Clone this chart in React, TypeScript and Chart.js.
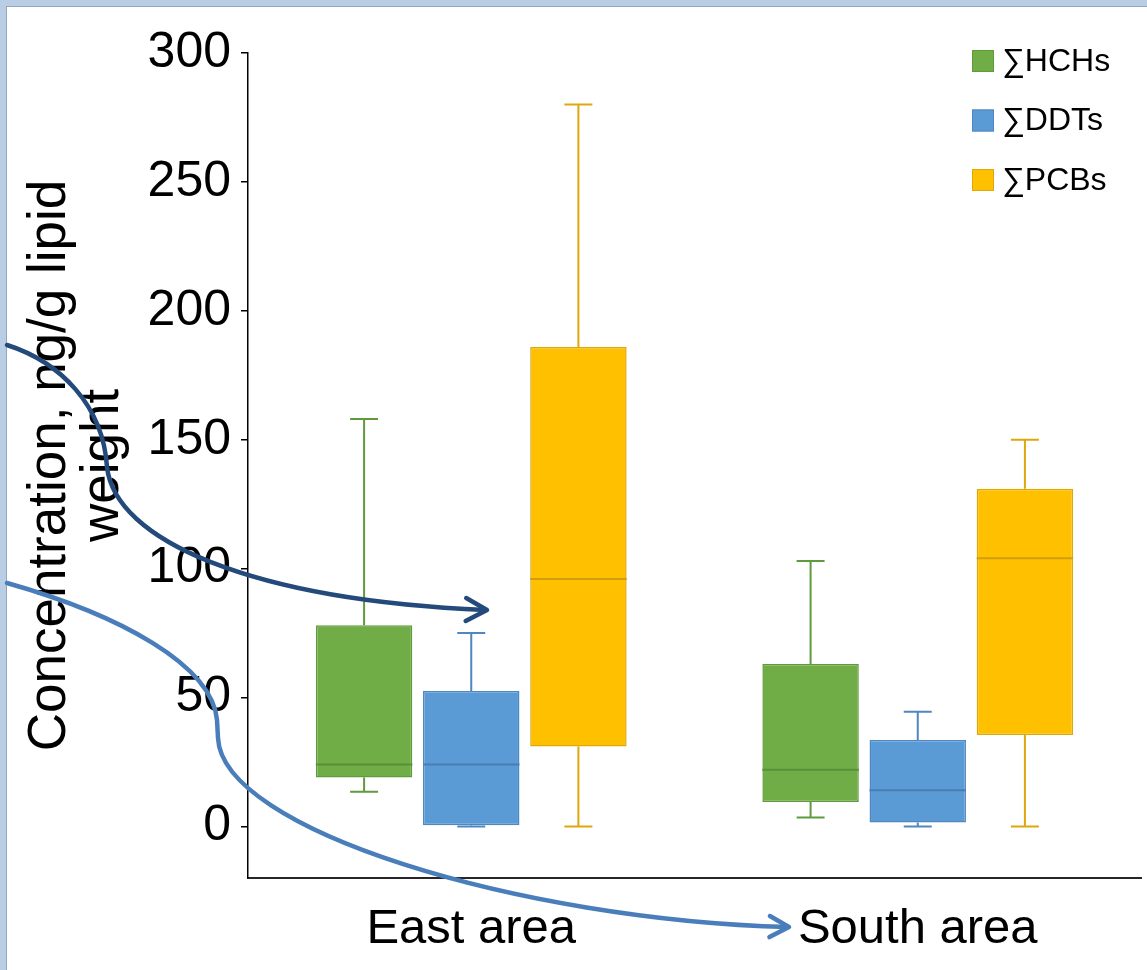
import React, { useEffect, useRef } from 'react';
import { Chart, registerables } from 'chart.js';

Chart.register(...registerables);

// ---- data ----
const categories = ['East area', 'South area'];
const seriesNames = ['∑HCHs', '∑DDTs', '∑PCBs'];
const yTickValues = [0, 50, 100, 150, 200, 250, 300];

const hchMin = [13.5, 3.5];
const hchQ1 = [19, 9.5];
const hchMedian = [24, 22];
const hchQ3 = [78, 63];
const hchMax = [158, 103];

const ddtMin = [0, 0];
const ddtQ1 = [0.5, 1.5];
const ddtMedian = [24, 14];
const ddtQ3 = [52.5, 33.5];
const ddtMax = [75, 44.5];

const pcbMin = [0, 0];
const pcbQ1 = [31, 35.5];
const pcbMedian = [96, 104];
const pcbQ3 = [186, 131];
const pcbMax = [280, 150];

// ---- styles ----
const fills = ['#70AD47', '#5B9BD5', '#FFC000'];
const edges = ['#5F9B3C', '#4F87C0', '#DEA70C'];
const medians = ['#5A8E38', '#4A7DB2', '#D09E10'];
const FONT = "'Liberation Sans', Arial, sans-serif";

const stats = [
  { q1: hchQ1, q3: hchQ3, min: hchMin, med: hchMedian, max: hchMax },
  { q1: ddtQ1, q3: ddtQ3, min: ddtMin, med: ddtMedian, max: ddtMax },
  { q1: pcbQ1, q3: pcbQ3, min: pcbMin, med: pcbMedian, max: pcbMax },
];

const boxWhiskerPlugin = {
  id: 'boxWhisker',
  afterDatasetsDraw(chart: any) {
    const ctx = chart.ctx;
    const ys = chart.scales.y;
    chart.data.datasets.forEach((ds: any, i: number) => {
      const meta = chart.getDatasetMeta(i);
      const s = ds.stats;
      meta.data.forEach((bar: any, j: number) => {
        const { x, width } = bar.getProps(['x', 'width'], true);
        const yMin = ys.getPixelForValue(s.min[j]);
        const yQ1 = ys.getPixelForValue(s.q1[j]);
        const yMed = ys.getPixelForValue(s.med[j]);
        const yQ3 = ys.getPixelForValue(s.q3[j]);
        const yMax = ys.getPixelForValue(s.max[j]);
        const cap = width * 0.29;
        ctx.save();
        ctx.strokeStyle = edges[i];
        ctx.lineWidth = 2;
        ctx.beginPath();
        ctx.moveTo(x, yQ3);
        ctx.lineTo(x, yMax);
        ctx.moveTo(x - cap / 2, yMax);
        ctx.lineTo(x + cap / 2, yMax);
        ctx.moveTo(x, yQ1);
        ctx.lineTo(x, yMin);
        ctx.moveTo(x - cap / 2, yMin);
        ctx.lineTo(x + cap / 2, yMin);
        ctx.stroke();
        ctx.strokeStyle = medians[i];
        ctx.lineWidth = 2;
        ctx.beginPath();
        ctx.moveTo(x - width / 2, yMed);
        ctx.lineTo(x + width / 2, yMed);
        ctx.stroke();
        ctx.restore();
      });
    });
  },
};

const legendPlugin = {
  id: 'boxLegend',
  afterDraw(chart: any) {
    const ctx = chart.ctx;
    const x0 = chart.chartArea.right - 169;
    const y0 = chart.chartArea.top + 8;
    ctx.save();
    chart.data.datasets.forEach((ds: any, i: number) => {
      const cy = y0 + i * 59.5;
      ctx.fillStyle = fills[i];
      ctx.fillRect(x0, cy - 11, 22, 22);
      ctx.strokeStyle = edges[i];
      ctx.lineWidth = 1;
      ctx.strokeRect(x0 + 0.5, cy - 10.5, 21, 21);
      ctx.fillStyle = '#000';
      ctx.font = `32px ${FONT}`;
      ctx.textAlign = 'left';
      ctx.textBaseline = 'middle';
      ctx.fillText(ds.label, x0 + 30, cy + 1);
    });
    ctx.restore();
  },
};

function arrowHead(ctx: any, fromX: number, fromY: number, tipX: number, tipY: number, len: number, spread: number) {
  const a = Math.atan2(tipY - fromY, tipX - fromX);
  ctx.beginPath();
  ctx.moveTo(tipX - len * Math.cos(a - spread), tipY - len * Math.sin(a - spread));
  ctx.lineTo(tipX, tipY);
  ctx.lineTo(tipX - len * Math.cos(a + spread), tipY - len * Math.sin(a + spread));
  ctx.stroke();
}

const arrowsPlugin = {
  id: 'arrows',
  afterDraw(chart: any) {
    const ctx = chart.ctx;
    ctx.save();
    ctx.lineWidth = 4.5;
    ctx.lineCap = 'round';
    ctx.lineJoin = 'round';
    // dark navy arrow
    ctx.strokeStyle = '#234A7B';
    ctx.beginPath();
    ctx.moveTo(7, 345);
    ctx.bezierCurveTo(60, 362, 103, 405, 107, 467);
    ctx.bezierCurveTo(115, 540, 250, 600, 486, 610);
    ctx.stroke();
    arrowHead(ctx, 400, 608, 487, 610, 24, 0.5);
    // light blue arrow
    ctx.strokeStyle = '#4A7EBB';
    ctx.beginPath();
    ctx.moveTo(7, 583);
    ctx.bezierCurveTo(120, 615, 212, 665, 217, 720);
    ctx.lineTo(218, 738);
    ctx.bezierCurveTo(222, 830, 520, 920, 788, 927);
    ctx.stroke();
    arrowHead(ctx, 700, 925, 789, 927, 22, 0.5);
    ctx.restore();
  },
};

export default function App() {
  const ref = useRef<HTMLCanvasElement | null>(null);

  useEffect(() => {
    if (!ref.current) return;
    const datasets = seriesNames.map((name, i) => ({
      label: name,
      data: categories.map((_, j) => [stats[i].q1[j], stats[i].q3[j]]),
      backgroundColor: fills[i],
      borderColor: edges[i],
      borderWidth: 1.5,
      borderSkipped: false,
      categoryPercentage: 0.72,
      barPercentage: 0.9,
      stats: stats[i],
    }));

    const chart = new Chart(ref.current, {
      type: 'bar',
      data: { labels: categories, datasets },
      options: {
        animation: false,
        responsive: false,
        devicePixelRatio: 1,
        layout: { padding: { left: 24, right: 6, top: 53, bottom: 0 } },
        plugins: { legend: { display: false }, tooltip: { enabled: false } },
        scales: {
          x: {
            type: 'category',
            grid: { display: false, drawTicks: false },
            border: { display: true, color: '#262626', width: 2 },
            ticks: {
              color: '#000',
              font: { family: FONT, size: 49, lineHeight: 1.2 },
              padding: 22,
              maxRotation: 0,
              autoSkip: false,
            },
            afterFit: (scale: any) => {
              scale.height = 92;
            },
          },
          y: {
            type: 'linear',
            min: -20,
            max: 300,
            grid: {
              display: true,
              drawOnChartArea: false,
              drawTicks: true,
              tickLength: 7,
              color: '#000',
              lineWidth: 1.5,
            },
            border: { display: true, color: '#000', width: 1.5 },
            ticks: {
              stepSize: 50,
              includeBounds: false,
              color: '#000',
              font: { family: FONT, size: 50, lineHeight: 1.2 },
              padding: 10,
            },
            afterBuildTicks: (axis: any) => {
              axis.ticks = yTickValues.map((v) => ({ value: v }));
            },
            afterFit: (scale: any) => {
              scale.width = 248 - 24;
            },
            title: {
              display: true,
              text: ['Concentration, ng/g lipid', 'weight'],
              color: '#000',
              font: { family: FONT, size: 53, lineHeight: 1.0 },
              padding: 0,
            },
          },
        },
      } as any,
      plugins: [boxWhiskerPlugin, legendPlugin, arrowsPlugin],
    } as any);

    return () => chart.destroy();
  }, []);

  return (
    <div style={{ position: 'fixed', left: 0, top: 0, width: 1147, height: 970, background: '#B9CDE5', overflow: 'hidden' }}>
      <div
        style={{
          position: 'absolute',
          left: 6,
          top: 6,
          right: 0,
          bottom: 0,
          background: '#fff',
          borderTop: '1px solid #97A5BC',
          borderLeft: '1px solid #97A5BC',
        }}
      />
      <canvas ref={ref} width={1147} height={970} style={{ position: 'absolute', left: 0, top: 0, display: 'block' }} />
    </div>
  );
}
